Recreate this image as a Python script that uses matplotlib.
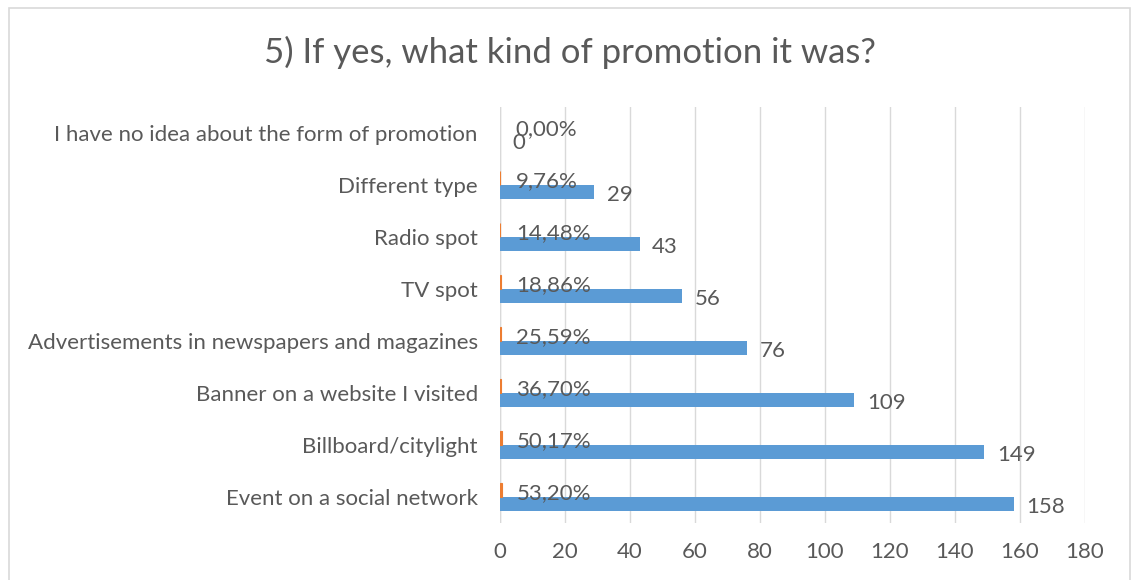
import matplotlib.pyplot as plt
from matplotlib.patches import Rectangle

categories = [
    "Event on a social network",
    "Billboard/citylight",
    "Banner on a website I visited",
    "Advertisements in newspapers and magazines",
    "TV spot",
    "Radio spot",
    "Different type",
    "I have no idea about the form of promotion",
]
counts = [158, 149, 109, 76, 56, 43, 29, 0]
shares = [0.5320, 0.5017, 0.3670, 0.2559, 0.1886, 0.1448, 0.0976, 0.0]
xticks = [0, 20, 40, 60, 80, 100, 120, 140, 160, 180]

plt.rcParams['font.family'] = ['Lato', 'DejaVu Sans']
txt = '#595959'
blue = '#5b9bd5'
orange = '#ed7d31'
fs = 16

W, H = 1136, 580
fig = plt.figure(figsize=(W / 100, H / 100), dpi=100)
ax = fig.add_axes([500 / W, 1 - 523 / H, 585 / W, 416 / H])

# chart frame
fig.patches.append(Rectangle((9 / W, -0.05), 1121 / W, 1 - 8 / H + 0.05,
                             transform=fig.transFigure, fill=False,
                             edgecolor='#d9d9d9', lw=1.2))

y = range(len(categories))
h = 0.27
ax.barh([i - h / 2 for i in y], counts, height=h, color=blue, zorder=3)
# the share series sits on the same axis, so its bars are only a sliver wide
ax.barh([i + h / 2 for i in y], shares, height=h, color=orange, zorder=3,
        edgecolor=orange, linewidth=[0.8 if s > 0 else 0 for s in shares])

for i, (c, s) in enumerate(zip(counts, shares)):
    ax.annotate(str(c), (c, i - h / 2), xytext=(9, -2), textcoords='offset points',
                ha='left', va='center', fontsize=fs, color=txt)
    ax.annotate(f"{s * 100:.2f}%".replace('.', ','), (s, i + h / 2),
                xytext=(11, -2), textcoords='offset points',
                ha='left', va='center', fontsize=fs, color=txt)

ax.set_xlim(0, 180)
ax.set_ylim(-0.5, len(categories) - 0.5)
ax.set_xticks(xticks)
ax.set_yticks(list(y))
ax.set_yticklabels(categories)
ax.tick_params(axis='both', length=0, labelsize=fs, labelcolor=txt)
ax.tick_params(axis='x', pad=14)
ax.tick_params(axis='y', pad=16)
ax.grid(axis='x', color='#d9d9d9', lw=1, zorder=0)
for s in ax.spines.values():
    s.set_visible(False)
ax.axvline(0, color='#d9d9d9', lw=1, zorder=1)

fig.text(570 / W, 1 - 52 / H, "5) If yes, what kind of promotion it was?",
         ha='center', va='center', fontsize=25, color=txt)

fig.savefig('out.png', dpi=100)
